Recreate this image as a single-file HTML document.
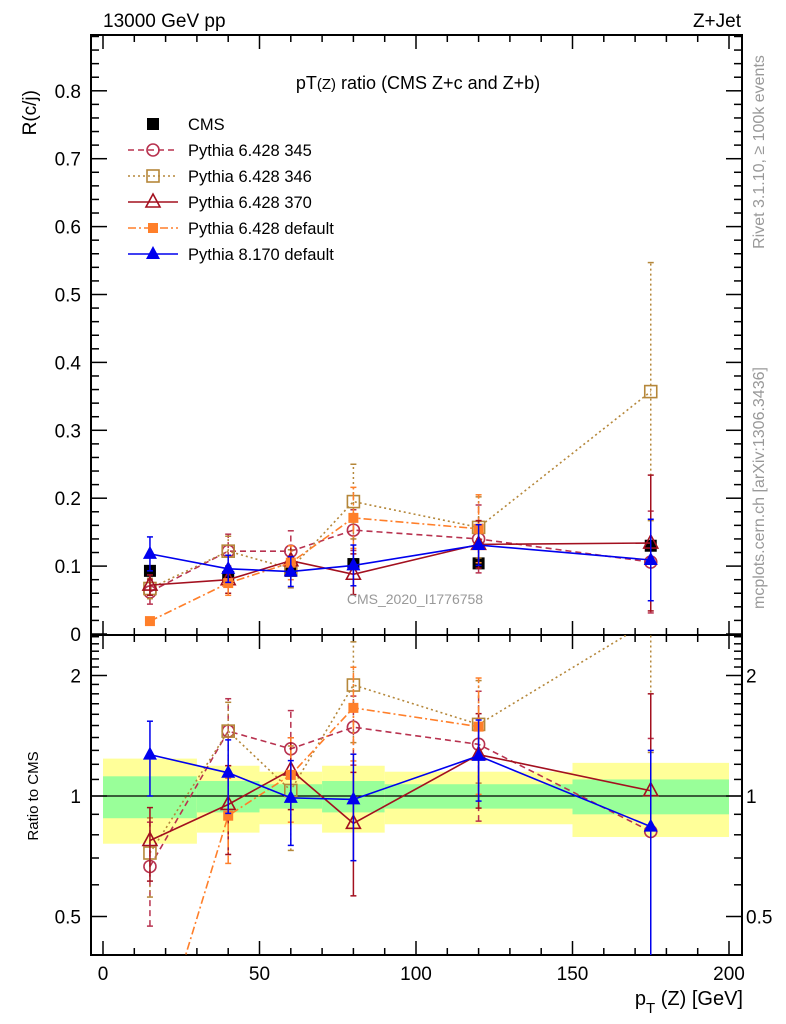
<!DOCTYPE html>
<html><head><meta charset="utf-8">
<style>
html,body{margin:0;padding:0;background:#fff;overflow:hidden;width:786px;height:1024px;}
svg{display:block;font-family:"Liberation Sans",sans-serif;}
</style></head>
<body>
<svg id="chart" width="786" height="1024" viewBox="0 0 786 1024">
<rect x="0" y="0" width="786" height="1024" fill="#fff"/>
<g id="bands"></g>
<g id="axes"></g>
<g id="series"></g>
<g id="legend"></g>
<text x="103" y="27" font-size="19">13000 GeV pp</text>
<text x="741" y="27" font-size="19" text-anchor="end">Z+Jet</text>
<text x="418" y="89" font-size="18" text-anchor="middle">pT<tspan font-size="15">(Z)</tspan> ratio (CMS  Z+c and Z+b)</text>
<text transform="translate(36,90) rotate(-90)" font-size="19" text-anchor="end">R(c/j)</text>
<text transform="translate(38,796) rotate(-90)" font-size="15" text-anchor="middle">Ratio to CMS</text>
<text x="743" y="1005" font-size="20" text-anchor="end">p<tspan font-size="15" dy="8">T</tspan><tspan dy="-8"> (Z) [GeV]</tspan></text>
<text x="415" y="604" font-size="14" fill="#999" text-anchor="middle">CMS_2020_I1776758</text>
<text transform="translate(764,152) rotate(-90)" font-size="16" fill="#999" text-anchor="middle">Rivet 3.1.10, ≥ 100k events</text>
<text transform="translate(764,488) rotate(-90)" font-size="16" fill="#999" text-anchor="middle">mcplots.cern.ch [arXiv:1306.3436]</text>
</svg>
<script>
const xs = [15, 40, 60, 80, 120, 175];
const cmsVals = [0.093, 0.084, 0.093, 0.103, 0.104, 0.130];
const binEdges = [0, 30, 50, 70, 90, 150, 200];
const statRel = [0.12, 0.09, 0.07, 0.09, 0.07, 0.10];
const totRel = [0.24, 0.19, 0.15, 0.19, 0.15, 0.21];
const p345 = [0.062, 0.122, 0.122, 0.153, 0.140, 0.106];
const p345Err = [0.018, 0.025, 0.030, 0.030, 0.050, 0.075];
const p346 = [0.067, 0.122, 0.096, 0.195, 0.157, 0.357];
const p346Err = [0.015, 0.022, 0.028, 0.055, 0.045, 0.190];
const p370 = [0.072, 0.080, 0.108, 0.088, 0.132, 0.134];
const p370Err = [0.015, 0.020, 0.022, 0.030, 0.035, 0.100];
const pdef = [0.019, 0.075, 0.105, 0.171, 0.155, null];
const pdefErr = [0.005, 0.018, 0.025, 0.045, 0.050, 0];
const p8 = [0.118, 0.096, 0.092, 0.101, 0.131, 0.109];
const p8Err = [0.025, 0.020, 0.022, 0.030, 0.030, 0.060];
const mainTicks = [0, 0.1, 0.2, 0.3, 0.4, 0.5, 0.6, 0.7, 0.8];
const ratioTicks = [0.5, 1, 2];

const NS = "http://www.w3.org/2000/svg";
const L = 91, R = 742, T = 35, MB = 635, RB = 955;
function X(v){ return 103 + (v) * (729 - 103) / 200; }
function Y(v){ return 634 - v * 679; }
function YR(r){ return 796 - 120.5 * Math.log2(r); }
function el(tag, attrs, parent){ const e = document.createElementNS(NS, tag); for (const k in attrs) e.setAttribute(k, attrs[k]); parent.appendChild(e); return e; }

const bands = document.getElementById('bands');
for (let i = 0; i < binEdges.length - 1; i++) {
  const x1 = X(binEdges[i]), x2 = X(binEdges[i+1]);
  const y1 = el('rect', {x:x1, y:YR(1+totRel[i]), width:x2-x1, height:YR(1-totRel[i])-YR(1+totRel[i]), fill:'#ffff99'}, bands);
  
  
  const g1 = el('rect', {x:x1, y:YR(1+statRel[i]), width:x2-x1, height:YR(1-statRel[i])-YR(1+statRel[i]), fill:'#99ff99'}, bands);
  
  
}

const ax = document.getElementById('axes');
const ln = (x1,y1,x2,y2,w,c) => el('line',{x1,y1,x2,y2,stroke:c||'#000','stroke-width':w||1},ax);
el('rect',{x:L,y:T,width:R-L,height:MB-T,fill:'none',stroke:'#000','stroke-width':2},ax);
el('rect',{x:L,y:MB,width:R-L,height:RB-MB,fill:'none',stroke:'#000','stroke-width':2},ax);
ln(L, 796, R, 796, 1.3);
for (let v = 0; v <= 200; v += 10) {
  const major = v % 50 === 0, h = major ? 14 : 7;
  for (const [yb, yt] of [[MB, T], [RB, MB]]) {
    ln(X(v), yb, X(v), yb - h, 1.5);
    ln(X(v), yt, X(v), yt + h, 1.5);
  }
  if (major) {
    const t = el('text',{x:X(v),y:980,'font-size':19,'text-anchor':'middle'},ax);
    t.textContent = v;
    
    
  }
}
for (let i = 0; i <= 44; i++) {
  const v = i * 0.02, y = Y(v);
  if (y < T) break;
  const major = i % 5 === 0, h = major ? 16 : 8;
  ln(L, y, L + h, y, 1.5); ln(R, y, R - h, y, 1.5);
}
mainTicks.forEach(v => {
  const t = el('text',{x:81,y:Y(v)+7,'font-size':19,'text-anchor':'end'},ax);
  t.textContent = v === 0 ? '0' : v.toFixed(1);
  
  
});
const minors = [0.4,0.5,0.6,0.7,0.8,0.9,1,1.1,1.2,1.3,1.4,1.5,1.6,1.7,1.8,1.9,2,2.1,2.2,2.3,2.4,2.5];
minors.forEach(r => {
  const y = YR(r); if (y < MB || y > RB) return;
  const major = ratioTicks.includes(r), h = major ? 16 : 8;
  ln(L, y, L + h, y, 1.5); ln(R, y, R - h, y, 1.5);
});
ratioTicks.forEach(r => {
  for (const [x, a] of [[81,'end'],[746,'start']]) {
    const t = el('text',{x:x,y:YR(r)+7,'font-size':19,'text-anchor':a},ax);
    t.textContent = r;
    
    
  }
});

const ser = document.getElementById('series');
const clipM = el('clipPath',{id:'cm'},ser); el('rect',{x:L,y:T,width:R-L,height:MB-T},clipM);
const clipR = el('clipPath',{id:'cr'},ser); el('rect',{x:L,y:MB,width:R-L,height:RB-MB},clipR);

function marker(g, kind, x, y, color) {
  let m;
  if (kind === 'sqf') m = el('rect',{x:x-6,y:y-6,width:12,height:12,fill:color},g);
  else if (kind === 'sqo') m = el('rect',{x:x-6,y:y-6,width:12,height:12,fill:'none',stroke:color,'stroke-width':1.6},g);
  else if (kind === 'circ') m = el('circle',{cx:x,cy:y,r:6,fill:'none',stroke:color,'stroke-width':1.6},g);
  else if (kind === 'trio') m = el('path',{d:`M${x},${y-8}L${x+7},${y+5}L${x-7},${y+5}Z`,fill:'none',stroke:color,'stroke-width':1.6},g);
  else if (kind === 'trif') m = el('path',{d:`M${x},${y-8}L${x+7},${y+5}L${x-7},${y+5}Z`,fill:color},g);
  else if (kind === 'sqs') m = el('rect',{x:x-5,y:y-5,width:10,height:10,fill:color},g);
  
  
}

const models = [
  {name:'pythia-6428-345', vals:p345, err:p345Err, color:'#b8324f', dash:'6,4', mk:'circ', w:1.6},
  {name:'pythia-6428-346', vals:p346, err:p346Err, color:'#b5873a', dash:'2,3', mk:'sqo', w:1.6},
  {name:'pythia-6428-370', vals:p370, err:p370Err, color:'#a3101f', dash:'', mk:'trio', w:1.6},
  {name:'pythia-6428-default', vals:pdef, err:pdefErr, color:'#ff7f2a', dash:'8,3,2,3', mk:'sqs', w:1.6},
  {name:'pythia-8170-default', vals:p8, err:p8Err, color:'#0000ee', dash:'', mk:'trif', w:1.6},
];

const cg = el('g',{'clip-path':'url(#cm)'},ser);


cmsVals.forEach((v,i) => marker(cg, 'sqf', X(xs[i]), Y(v), '#000'));

models.forEach(m => {
  for (const panel of ['main','ratio']) {
    const g = el('g',{'clip-path': panel==='main'?'url(#cm)':'url(#cr)'},ser);
    
    
    const fy = (v,i) => panel==='main' ? Y(v) : YR(Math.max(v,1e-3)/cmsVals[i]);
    const pts = [];
    m.vals.forEach((v,i) => { if (v !== null) pts.push([X(xs[i]), fy(v,i)]); });
    const p = el('polyline',{points:pts.map(q=>q.join(',')).join(' '),fill:'none',stroke:m.color,'stroke-width':m.w,'stroke-dasharray':m.dash},g);
    
    
    m.vals.forEach((v,i) => {
      if (v === null) return;
      const x = X(xs[i]), lo = Math.max(v - m.err[i], 1e-3), hi = v + m.err[i];
      const y1 = fy(lo,i), y2 = fy(hi,i);
      const e = el('line',{x1:x,y1:y1,x2:x,y2:y2,stroke:m.color,'stroke-width':1.5,'stroke-dasharray':m.dash},g);
      
      
      el('line',{x1:x-3,y1:y1,x2:x+3,y2:y1,stroke:m.color,'stroke-width':1.5},g);
      el('line',{x1:x-3,y1:y2,x2:x+3,y2:y2,stroke:m.color,'stroke-width':1.5},g);
      marker(g, m.mk, x, fy(v,i), m.color);
    });
  }
});

const lg = document.getElementById('legend');
const labels = ['CMS','Pythia 6.428 345','Pythia 6.428 346','Pythia 6.428 370','Pythia 6.428 default','Pythia 8.170 default'];
labels.forEach((lab,i) => {
  const y = 124 + i * 26;
  const g = el('g',{},lg);
  
  
  if (i === 0) marker(g, 'sqf', 153, y, '#000');
  else {
    const m = models[i-1];
    el('line',{x1:128,y1:y,x2:178,y2:y,stroke:m.color,'stroke-width':1.5,'stroke-dasharray':m.dash},g);
    marker(g, m.mk, 153, y, m.color);
  }
  const t = el('text',{x:188,y:y+6,'font-size':16.5},g);
  t.textContent = lab;
});
</script>
</body></html>
